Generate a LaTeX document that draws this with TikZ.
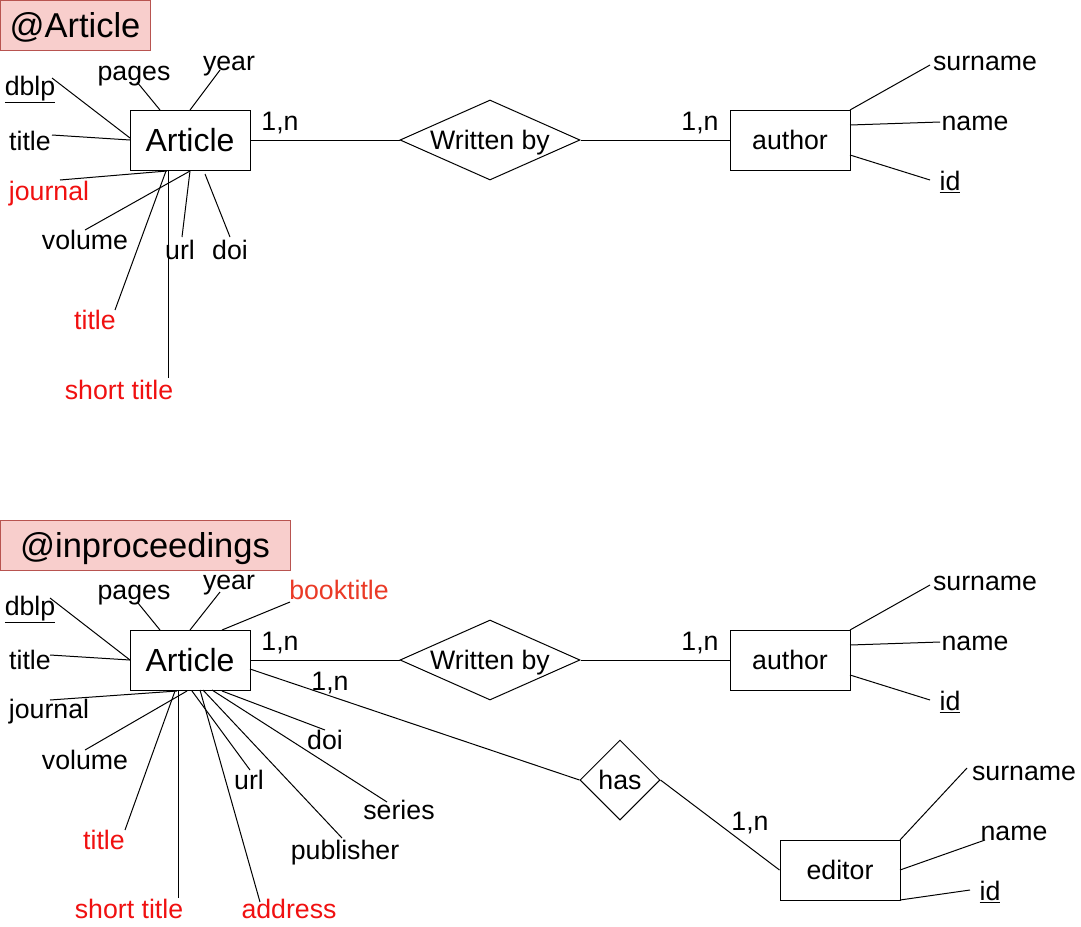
\documentclass[tikz,border=0pt]{standalone}
\usepackage{fontspec}
\setmainfont{Liberation Sans}
\usetikzlibrary{shapes.geometric}
\definecolor{lblfill}{HTML}{F8CECC}
\definecolor{lbldraw}{HTML}{B85450}
\definecolor{attrred}{HTML}{F01010}
\definecolor{bookred}{HTML}{EA3A26}
\tikzset{
  conn/.style={line width=1pt, draw=black},
  txt/.style={inner sep=0pt, font=\fontsize{26.7}{32}\selectfont, text height=19.1pt, text depth=0pt},
  redtxt/.style={txt, text=attrred},
  booktxt/.style={txt, text=bookred},
  entity/.style={draw, line width=1pt, minimum width=120, minimum height=60, inner sep=0pt,
    font=\fontsize{26.7}{32}\selectfont, text height=19.1pt, text depth=0pt},
  bigentity/.style={entity, font=\fontsize{32}{38}\selectfont, text height=22.9pt},
  relation/.style={draw, line width=1pt, shape=diamond, inner sep=0pt, shape aspect=2.25,
    minimum width=180, minimum height=80, font=\fontsize{26.7}{32}\selectfont, text height=19.1pt, text depth=0pt},
  smallrel/.style={relation, shape aspect=1, minimum width=80, minimum height=80},
  tag/.style={draw=lbldraw, fill=lblfill, line width=1pt, inner sep=0pt, minimum height=50,
    font=\fontsize{34.5}{40}\selectfont, text height=24.7pt, text depth=0pt},
}
\newcommand{\erattr}[6]{%
  \node[#4] (#1) at (#2) {#3};
  \coordinate (#1a) at (#5);
  \coordinate (#1b) at (#6);
  \draw[conn] (#1a) -- (#1b);}
\begin{document}
\begin{tikzpicture}[x=1pt,y=-1pt]
\useasboundingbox (0,0) rectangle (1081,926);

% ---------------- top: @Article ----------------
\node[tag, minimum width=150] (tagA) at (75,25) {@Article};
\node[bigentity] (art1) at (190,140) {Article};
\node[relation] (wb1) at (490,140) {Written by};
\node[entity] (au1) at (790,140) {author};
\draw[conn] (art1.east) -- (wb1.west);
\draw[conn] (wb1.east) -- (au1.west);
\node[txt] (c1a) at (280,121) {1,n};
\node[txt] (c1b) at (700,121) {1,n};

\erattr{tdblp}{30,86}{\underline{dblp}}{txt}{52,78}{130,138}
\erattr{tpages}{134,71}{pages}{txt}{137,82}{160,110}
\erattr{tyear}{229,61}{year}{txt}{220,70}{190,110}
\erattr{ttitle}{30,141}{title}{txt}{52,135}{130,140}
\erattr{tjournal}{49,191}{journal}{redtxt}{60,180}{167,171}
\erattr{tvolume}{85,240}{volume}{txt}{85,230}{190,171}
\erattr{ttitler}{95,320}{title}{redtxt}{115,310}{166,171}
\erattr{tshort}{119,390}{short title}{redtxt}{168,378}{168,170}
\erattr{turl}{180,250}{url}{txt}{182,237}{190,171}
\erattr{tdoi}{230,250}{doi}{txt}{230,237}{205,174}

\erattr{tsurname}{985,61}{surname}{txt}{930,65}{850,110}
\erattr{tname}{975,121}{name}{txt}{940,122}{850,125}
\erattr{tid}{950,181}{\underline{id}}{txt}{930,180}{850,155}

% ---------------- bottom: @inproceedings ----------------
\node[tag, minimum width=290] (tagB) at (145,545) {@inproceedings};
\node[bigentity] (art2) at (190,660) {Article};
\node[relation] (wb2) at (490,660) {Written by};
\node[entity] (au2) at (790,660) {author};
\node[smallrel] (has) at (620,780) {has};
\node[entity] (ed) at (840,870) {editor};
\draw[conn] (art2.east) -- (wb2.west);
\draw[conn] (wb2.east) -- (au2.west);
\coordinate (art2has) at (250,669);
\draw[conn] (art2has) -- (has.west);
\draw[conn] (has.east) -- (ed.west);
\node[txt] (c2a) at (280,641) {1,n};
\node[txt] (c2b) at (700,641) {1,n};
\node[txt] (c2c) at (330,681) {1,n};
\node[txt] (c2d) at (750,821) {1,n};

\erattr{bdblp}{30,606}{\underline{dblp}}{txt}{50,598}{130,660}
\erattr{bpages}{134,590}{pages}{txt}{138,603}{160,630}
\erattr{byear}{229,580}{year}{txt}{220,592}{190,630}
\erattr{bbook}{339,590}{booktitle}{booktxt}{290,602}{222,630}
\erattr{btitle}{30,660}{title}{txt}{50,655}{130,660}
\erattr{bjournal}{49,709}{journal}{txt}{50,700}{177,691}
\erattr{bvolume}{85,760}{volume}{txt}{85,750}{187,691}
\erattr{btitler}{104,840}{title}{redtxt}{125,830}{175,691}
\erattr{bshort}{129,909}{short title}{redtxt}{178,898}{178,690}
\erattr{burl}{249,780}{url}{txt}{250,770}{192,691}
\erattr{bdoi}{325,740}{doi}{txt}{325,730}{222,691}
\erattr{bseries}{399,810}{series}{txt}{387,802}{212,690}
\erattr{bpub}{345,850}{publisher}{txt}{342,838}{203,690}
\erattr{baddr}{289,909}{address}{redtxt}{260,902}{200,690}

\erattr{bsurname}{985,581}{surname}{txt}{930,585}{850,630}
\erattr{bname}{975,641}{name}{txt}{940,642}{850,645}
\erattr{bid}{950,701}{\underline{id}}{txt}{930,700}{850,675}

\erattr{esurname}{1024,771}{surname}{txt}{967,768}{900,840}
\erattr{ename}{1014,831}{name}{txt}{985,840}{900,870}
\erattr{eid}{990,891}{\underline{id}}{txt}{970,890}{900,900}
\end{tikzpicture}
\end{document}
